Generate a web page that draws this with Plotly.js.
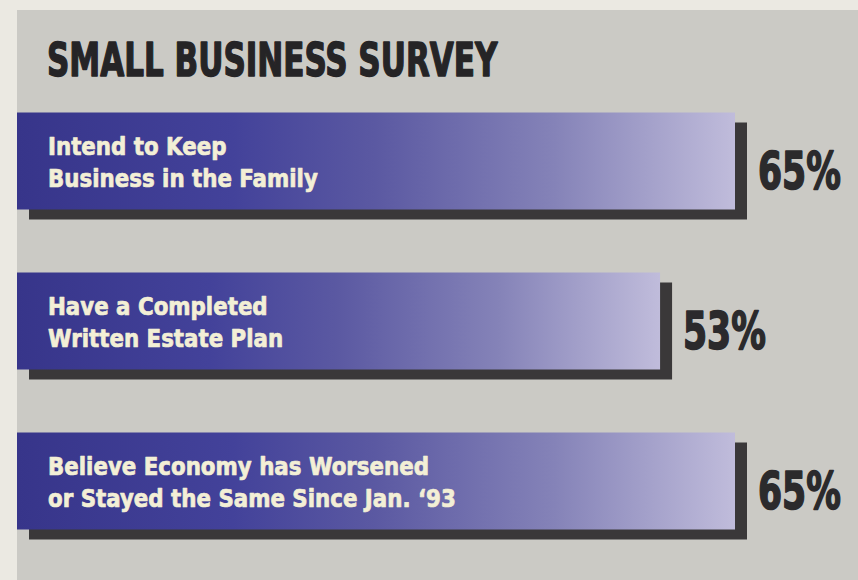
<!DOCTYPE html>
<html>
<head>
<meta charset="utf-8">
<script src="https://cdn.plot.ly/plotly-3.0.1.min.js"></script>
<style>
  html, body { margin: 0; padding: 0; background: #ebe9e2; }
  #chart { width: 858px; height: 580px; }
</style>
</head>
<body>
<div id="chart"></div>
<script>
// ---- data ----
const chartTitle = "SMALL BUSINESS SURVEY";
const categories = [
  "Intend to Keep<br>Business in the Family",
  "Have a Completed<br>Written Estate Plan",
  "Believe Economy has Worsened<br>or Stayed the Same Since Jan. \u201893"
];
const percentValues = [65, 53, 65];
const valueLabels = ["65%", "53%", "65%"];

// axis origin used by the original artwork (bars are not drawn from zero)
const AXIS_START = -50;

const FONT = "'DejaVu Sans Condensed', 'DejaVu Sans', sans-serif";

const barTrace = {
  type: "bar",
  orientation: "h",
  y: categories,
  x: percentValues.map(v => v - AXIS_START),
  base: AXIS_START,
  marker: { color: "#4a489a", line: { width: 0 } },
  hoverinfo: "skip",
  showlegend: false
};

const labelAnnotations = categories.map(c => ({
  xref: "x", yref: "y", x: AXIS_START, y: c,
  xanchor: "left", yanchor: "middle", xshift: 29, yshift: -2,
  text: "<b>" + c + "</b>", showarrow: false, align: "left",
  font: { family: FONT, size: 25, color: "#f3efd6" }
}));
const valueAnnotations = categories.map((c, i) => ({
  xref: "x", yref: "y", x: percentValues[i], y: c,
  xanchor: "left", yanchor: "middle", xshift: 21, yshift: -10,
  text: "<b>" + valueLabels[i] + "</b>", showarrow: false,
  font: { family: FONT, size: 52, color: "#2b2a2c" }
}));

const layout = {
  width: 858, height: 580,
  margin: { l: 17, r: 0, t: 81, b: 19, pad: 0 },
  paper_bgcolor: "#ebe9e2",
  plot_bgcolor: "rgba(0,0,0,0)",
  title: {
    text: "<b>" + chartTitle + "</b>",
    xref: "container", yref: "container",
    x: 47 / 858, xanchor: "left",
    y: 1 - 60 / 580, yanchor: "middle",
    font: { family: FONT, size: 46, color: "#252426" }
  },
  bargap: 0.394,
  xaxis: { range: [AXIS_START, 84.7], visible: false, fixedrange: true },
  yaxis: { autorange: "reversed", visible: false, fixedrange: true },
  shapes: [{
    type: "rect", xref: "paper", yref: "paper",
    x0: 0, x1: 1.01, y0: -0.05, y1: 1 + 71 / 480,
    fillcolor: "#cbcac5", line: { width: 0 }, layer: "below"
  }],
  annotations: labelAnnotations.concat(valueAnnotations)
};

// horizontally condense a text element about its left edge (the artwork uses a condensed, heavy face)
function condense(el, s, strokeW) {
  const bb = el.getBBox();
  const x0 = bb.x;
  const prev = el.getAttribute("transform") || "";
  el.setAttribute("transform", prev + ` translate(${x0},0) scale(${s},1) translate(${-x0},0)`);
  if (strokeW) {
    const col = el.style.fill || window.getComputedStyle(el).fill;
    el.style.stroke = col;
    el.style.strokeWidth = strokeW + "px";
    el.style.strokeLinejoin = "round";
  }
}

Plotly.newPlot("chart", [barTrace], layout, { displayModeBar: false, staticPlot: true }).then(gd => {
  const svg = gd.querySelector("svg.main-svg");
  const ns = "http://www.w3.org/2000/svg";
  let defs = svg.querySelector("defs");
  if (!defs) { defs = document.createElementNS(ns, "defs"); svg.insertBefore(defs, svg.firstChild); }
  const grad = document.createElementNS(ns, "linearGradient");
  grad.setAttribute("id", "barGrad");
  grad.setAttribute("x1", "0"); grad.setAttribute("y1", "0");
  grad.setAttribute("x2", "1"); grad.setAttribute("y2", "0");
  [[0, "#37358a"], [0.3, "#43429a"], [0.5, "#5b59a2"], [0.75, "#8583b8"], [1, "#c0bcdb"]].forEach(([o, c]) => {
    const s = document.createElementNS(ns, "stop");
    s.setAttribute("offset", o); s.setAttribute("stop-color", c);
    grad.appendChild(s);
  });
  defs.appendChild(grad);
  gd.querySelectorAll(".barlayer .point path").forEach(p => {
    p.style.fill = "url(#barGrad)";
    p.style.filter = "drop-shadow(12px 10px 0 #3a3839)";
  });

  const titleEl = gd.querySelector(".gtitle");
  if (titleEl) condense(titleEl, 0.75, 1.4);
  gd.querySelectorAll(".annotation").forEach(a => {
    const idx = +a.getAttribute("data-index");
    const t = a.querySelector("text.annotation-text");
    if (!t) return;
    if (idx >= categories.length) condense(t, 0.74, 1.6);
    else condense(t, 0.95, 0.7);
  });
});
</script>
</body>
</html>
